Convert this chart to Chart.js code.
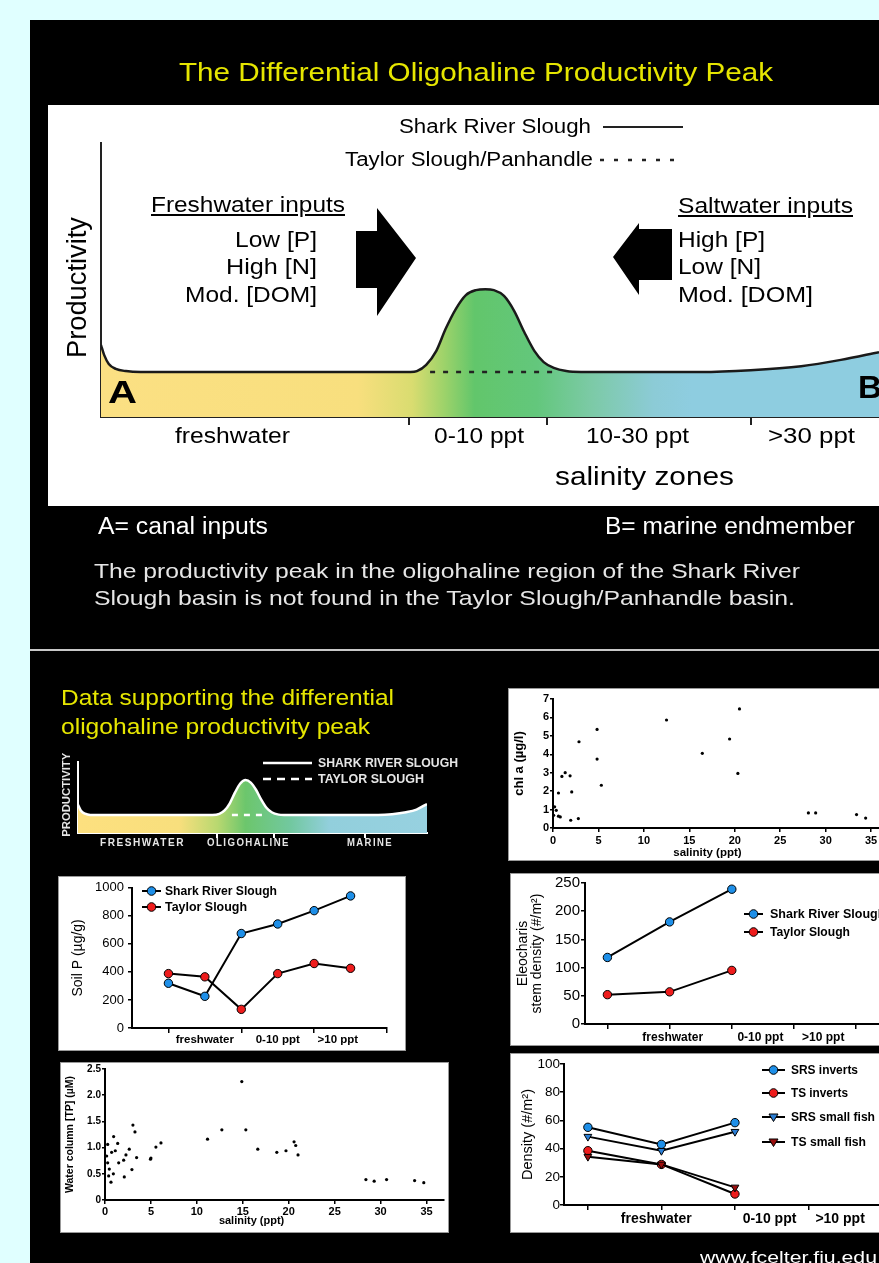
<!DOCTYPE html>
<html>
<head>
<meta charset="utf-8">
<script src="https://cdn.jsdelivr.net/npm/chart.js@4.4.1/dist/chart.umd.min.js"></script>
<style>
html, body { margin: 0; padding: 0; }
body { width: 879px; height: 1263px; overflow: hidden; position: relative; background: #e0ffff;
       font-family: Arial, "Liberation Sans", sans-serif; }
.box { position: absolute; }
.t { position: absolute; white-space: nowrap; line-height: 1; transform-origin: 0 50%; }
canvas { position: absolute; }
</style>
</head>
<body>
<div class="box" style="left:30px;top:20px;width:870px;height:629px;background:#000"></div>
<div class="box" style="left:30px;top:649px;width:870px;height:2px;background:#c8c8c8"></div>
<div class="box" style="left:30px;top:651px;width:870px;height:620px;background:#000"></div>
<div class="box" style="left:48px;top:105px;width:860px;height:401px;background:#fff"></div>
<div class="box" style="left:508px;top:688px;width:400px;height:171px;background:#fff;border:1px solid #999"></div>
<div class="box" style="left:58px;top:876px;width:346px;height:173px;background:#fff;border:1px solid #999"></div>
<div class="box" style="left:510px;top:873px;width:400px;height:171px;background:#fff;border:1px solid #999"></div>
<div class="box" style="left:60px;top:1062px;width:387px;height:169px;background:#fff;border:1px solid #999"></div>
<div class="box" style="left:510px;top:1053px;width:400px;height:178px;background:#fff;border:1px solid #999"></div>

<script>
// ---- conceptual curves (position along transect 0-100 %, productivity relative to baseline) ----
const conceptPos = [0, 0.4, 1.0, 1.9, 3.2, 5.1, 39.8, 40.6, 41.8, 43.1, 44.3, 45.6, 46.9, 48.2, 49.4, 50.5,
                    51.8, 53.1, 54.4, 55.7, 56.9, 58.2, 59.8, 61.7, 77.1, 83.5, 90.0, 95.1, 100];
const conceptSRS = [1.6, 1.38, 1.18, 1.07, 1.02, 1.0, 1.0, 1.02, 1.16, 1.47, 1.96, 2.4, 2.71, 2.82, 2.84, 2.82,
                    2.69, 2.36, 1.89, 1.47, 1.22, 1.09, 1.02, 1.0, 1.0, 1.04, 1.13, 1.27, 1.44];
const conceptTSPos = [42.3, 59.0];
const conceptTS = [1.0, 1.0];
const conceptBreaks = [39.6, 57.3, 83.5];

const miniPos = [0, 0.8, 2, 3.5, 38.5, 40.5, 42, 43.5, 45, 46.5, 48, 49.5, 51, 52.5, 54, 55.5, 57.5, 59,
                 86, 90, 94, 97, 100];
const miniSRS = [1.56, 1.25, 1.07, 1.0, 1.0, 1.06, 1.25, 1.65, 2.25, 2.75, 2.94, 2.8, 2.4, 1.85, 1.4, 1.15, 1.02, 1.0,
                 1.0, 1.04, 1.15, 1.3, 1.61];
const miniTSPos = [44.1, 54.4];
const miniTS = [1.0, 1.0];
const miniBreaks = [39.8, 56.2, 82.2];

// ---- chl a vs salinity ----
const chlSal = [0.18, 0.36, 0.07, 0.6, 0.8, 0.6, 0.98, 1.34, 1.88, 2.06, 1.95, 2.79, 2.86, 4.85, 4.85, 5.32,
                12.49, 16.43, 19.43, 20.52, 20.34, 28.1, 28.9, 33.4, 34.4];
const chlA = [1.15, 0.96, 0.69, 0.64, 0.6, 1.9, 2.8, 3.0, 2.83, 1.96, 0.42, 0.51, 4.68, 5.35, 3.74, 2.32,
              5.86, 4.05, 4.83, 6.46, 2.96, 0.82, 0.82, 0.73, 0.54];
const chlYTicks = [0, 1, 2, 3, 4, 5, 6, 7];
const salTicks = [0, 5, 10, 15, 20, 25, 30, 35];

// ---- water column TP vs salinity ----
const tpSal = [0.29, 0.18, 0.29, 0.47, 0.4, 0.65, 0.72, 0.94, 1.12, 1.38, 1.49, 0.91, 2.1, 2.03, 2.28, 2.64,
               2.93, 3.04, 3.26, 3.44, 5.0, 4.95, 5.54, 6.09, 11.16, 12.72, 14.89, 15.33, 16.63, 18.7,
               19.7, 20.58, 20.76, 21.01, 28.4, 29.3, 30.65, 33.7, 34.7];
const tpConc = [1.06, 0.84, 0.71, 0.59, 0.46, 0.34, 0.91, 1.21, 0.94, 1.08, 0.71, 0.5, 0.44, 0.76, 0.86, 0.97,
                0.58, 1.43, 1.3, 0.81, 0.8, 0.78, 1.01, 1.09, 1.16, 1.34, 2.26, 1.34, 0.97, 0.91,
                0.94, 1.11, 1.04, 0.86, 0.39, 0.36, 0.39, 0.37, 0.33];
const tpYTicks = [0, 0.5, 1, 1.5, 2, 2.5];

// ---- soil P ----
const soilPos = [1, 2, 3, 4, 5, 6];
const soilSRS = [319, 226, 674, 742, 837, 942];
const soilTS = [388, 365, 133, 388, 460, 426];
const soilMarks = [1, 3, 5, 7];
const soilZonePos = [2, 4, 5.65];
const soilYTicks = [0, 200, 400, 600, 800, 1000];

// ---- Eleocharis stem density ----
const eleoPos = [1, 2, 3];
const eleoSRS = [118, 181, 239];
const eleoTS = [52, 57, 95];
const eleoMarks = [1, 2, 3, 4, 5];
const eleoZonePos = [2.05, 3.46, 4.47];
const eleoYTicks = [0, 50, 100, 150, 200, 250];

// ---- invertebrate / small fish density ----
const densPos = [1, 2, 3];
const srsInverts = [55.1, 43, 58.4];
const tsInverts = [38.5, 28.8, 7.8];
const srsFish = [48.5, 38.5, 52];
const tsFish = [34.3, 28.8, 12.5];
const densMarks = [1, 2, 3, 4, 5];
const densZonePos = [1.93, 3.47, 4.43];
const densYTicks = [0, 20, 40, 60, 80, 100];

const zoneLabels = ['freshwater', '0-10 ppt', '>10 ppt'];

const BLUE = '#1e8fe8', RED = '#ee1c1c', DKRED = '#9a0e0e', TRIBLUE = '#2b7ed4';

Chart.defaults.font.family = 'Arial, "Liberation Sans", sans-serif';
Chart.defaults.color = '#000';

function pts(xs, ys) { return xs.map((x, i) => ({x: x, y: ys[i]})); }

function cv(x, y, w, h) {
  const c = document.createElement('canvas');
  c.width = w; c.height = h;
  c.style.left = x + 'px'; c.style.top = y + 'px';
  c.style.width = w + 'px'; c.style.height = h + 'px';
  document.body.appendChild(c);
  return c;
}

function bandFill(stops) {
  return function (ctx) {
    const a = ctx.chart.chartArea;
    if (!a) return null;
    const g = ctx.chart.ctx.createLinearGradient(a.left, 0, a.right, 0);
    stops.forEach(s => g.addColorStop(s[0], s[1]));
    return g;
  };
}

function base(pad, scales) {
  return {
    responsive: false, animation: false, events: [],
    layout: {padding: {left: pad.left || 0, top: pad.top || 0, right: pad.right || 0, bottom: pad.bottom || 0}},
    plugins: {legend: {display: false}, tooltip: {enabled: false}},
    scales: scales
  };
}

function axis(o) {
  return {
    type: 'linear', min: o.min, max: o.max, z: 1,
    afterBuildTicks: s => { s.ticks = o.ticks.slice().sort((a, b) => a - b).map(v => ({value: v})); },
    afterFit: s => { if (o.horiz) s.height = o.size; else s.width = o.size; },
    ticks: {display: o.font !== undefined, autoSkip: false, maxRotation: 0, color: o.color || '#000',
            font: o.font, padding: o.pad || 0, callback: o.label || (v => v)},
    grid: {display: o.tl > 0, drawOnChartArea: false, drawTicks: o.tl > 0, tickLength: o.tl, lineWidth: o.tw || 1.5,
           color: o.marks ? (c => (c.tick && o.marks.includes(c.tick.value)) ? (o.color || '#000') : 'rgba(0,0,0,0)')
                          : (o.color || '#000')},
    border: {color: o.color || '#000', width: 2},
    title: o.title ? {display: true, text: o.title, font: o.tfont, color: '#000', padding: o.tpad}
                   : {display: false}
  };
}

function zoneLabel(pos) {
  return v => { const i = pos.indexOf(v); return i >= 0 ? zoneLabels[i] : ''; };
}

function series(xs, ys, fill, style) {
  return {data: pts(xs, ys), borderColor: '#000', borderWidth: 2, tension: 0, clip: false,
          pointRadius: style === 'triangle' ? 4.5 : 4.2, pointStyle: style || 'circle',
          rotation: style === 'triangle' ? 180 : 0,
          pointBackgroundColor: fill, pointBorderColor: '#000', pointBorderWidth: 1};
}

function dots(xs, ys) {
  return {data: pts(xs, ys), showLine: false, pointRadius: 1.6, pointBackgroundColor: '#000',
          pointBorderWidth: 0, clip: false};
}

// ---- main conceptual diagram ----
new Chart(cv(48, 105, 831, 401), {
  type: 'line',
  data: {datasets: [
    {data: pts(conceptPos, conceptSRS), order: 1, borderColor: '#1a1a1a', borderWidth: 2.5, pointRadius: 0,
     cubicInterpolationMode: 'monotone', fill: 'origin',
     backgroundColor: bandFill([[0, '#fbe083'], [0.33, '#f8df7e'], [0.40, '#d9dc70'], [0.44, '#9fd36a'],
                                [0.48, '#62c66b'], [0.56, '#63c77c'], [0.63, '#7ccaa6'], [0.71, '#8ccbd6'],
                                [0.76, '#8ecde0'], [1, '#8ecde0']])},
    {data: pts(conceptTSPos, conceptTS), order: 0, borderColor: '#222', borderWidth: 2.5, borderDash: [5, 8],
     pointRadius: 0, fill: false}
  ]},
  options: base({left: 53, top: 38, bottom: 81}, {
    x: axis({horiz: true, size: 8, min: 0, max: 100, ticks: conceptBreaks, tl: 8, tw: 2, color: '#222'}),
    y: axis({size: 0, min: 0, max: 6.09, ticks: [], tl: 0, color: '#222'})
  })
});

// ---- small conceptual diagram ----
new Chart(cv(70, 755, 370, 95), {
  type: 'line',
  data: {datasets: [
    {data: pts(miniPos, miniSRS), order: 1, borderColor: '#fff', borderWidth: 2.5, pointRadius: 0,
     cubicInterpolationMode: 'monotone', fill: 'origin',
     backgroundColor: bandFill([[0, '#fde07f'], [0.29, '#f8df7d'], [0.40, '#b8d870'], [0.48, '#6cc66c'],
                                [0.61, '#72c8a0'], [0.72, '#92cfdc'], [1, '#97d1e0']])},
    {data: pts(miniTSPos, miniTS), order: 0, borderColor: '#fff', borderWidth: 2.5, borderDash: [6, 6],
     pointRadius: 0, fill: false}
  ]},
  options: base({left: 8, top: 7, right: 13, bottom: 12}, {
    x: axis({horiz: true, size: 5, min: 0, max: 100, ticks: miniBreaks, tl: 5, tw: 2, color: '#fff'}),
    y: axis({size: 0, min: 0, max: 3.94, ticks: [], tl: 0, color: '#fff'})
  })
});

// ---- chl a ----
new Chart(cv(508, 688, 377, 172), {
  type: 'scatter',
  data: {datasets: [dots(chlSal, chlA)]},
  options: base({top: 11}, {
    x: axis({horiz: true, size: 32, min: 0, max: 36.09, ticks: salTicks, font: {size: 11, weight: 'bold'},
             tl: 4, pad: 2, title: 'salinity (ppt)' + ' '.repeat(6), tfont: {size: 11.5, weight: 'bold'},
             tpad: {top: 0, bottom: 0}}),
    y: axis({size: 45, min: 0, max: 7, ticks: chlYTicks, font: {size: 11, weight: 'bold'}, tl: 3, pad: 1,
             title: 'chl a (µg/l)', tfont: {size: 13, weight: 'bold'}, tpad: {top: 4, bottom: 0}})
  })
});

// ---- soil P ----
new Chart(cv(58, 876, 347, 174), {
  type: 'line',
  data: {datasets: [series(soilPos, soilTS, RED), series(soilPos, soilSRS, BLUE)]},
  options: base({top: 9, right: 18}, {
    x: axis({horiz: true, size: 22, min: 0, max: 7, ticks: soilMarks.concat(soilZonePos), marks: soilMarks,
             label: zoneLabel(soilZonePos), font: {size: 11.5, weight: 'bold'}, tl: 5, pad: 0}),
    y: axis({size: 74, min: 0, max: 1000, ticks: soilYTicks, font: {size: 13}, tl: 4, pad: 4,
             title: 'Soil P (µg/g)', tfont: {size: 14}, tpad: {top: 11.6, bottom: 0}})
  })
});

// ---- Eleocharis ----
new Chart(cv(510, 873, 390, 172), {
  type: 'line',
  data: {datasets: [series(eleoPos, eleoTS, RED), series(eleoPos, eleoSRS, BLUE)]},
  options: base({top: 9}, {
    x: axis({horiz: true, size: 21, min: 0.64, max: 5.62, ticks: eleoMarks.concat(eleoZonePos), marks: eleoMarks,
             label: zoneLabel(eleoZonePos), font: {size: 12, weight: 'bold'}, tl: 5, pad: 1}),
    y: axis({size: 75, min: 0, max: 250, ticks: eleoYTicks, font: {size: 15}, tl: 4, pad: 1,
             title: ['Eleocharis', 'stem density (#/m²)'], tfont: {size: 14, lineHeight: 1},
             tpad: {top: 6, bottom: 0}})
  })
});

// ---- water column TP ----
new Chart(cv(60, 1062, 388, 170), {
  type: 'scatter',
  data: {datasets: [dots(tpSal, tpConc)]},
  options: base({top: 5, right: 3}, {
    x: axis({horiz: true, size: 32, min: 0, max: 36.9, ticks: salTicks, font: {size: 11, weight: 'bold'},
             tl: 4, pad: 1, title: 'salinity (ppt)' + ' '.repeat(15), tfont: {size: 11, weight: 'bold'},
             tpad: {top: 0, bottom: 4}}),
    y: axis({size: 45, min: 0, max: 2.5, ticks: tpYTicks, font: {size: 10, weight: 'bold'}, tl: 3, pad: 1,
             label: v => v === 0 ? '0' : v.toFixed(1),
             title: 'Water column [TP] (µM)', tfont: {size: 10.5, weight: 'bold'}, tpad: {top: 3.7, bottom: 0}})
  })
});

// ---- density ----
new Chart(cv(510, 1053, 390, 179), {
  type: 'line',
  data: {datasets: [
    series(densPos, tsFish, DKRED, 'triangle'), series(densPos, srsFish, TRIBLUE, 'triangle'),
    series(densPos, tsInverts, RED), series(densPos, srsInverts, BLUE)
  ]},
  options: base({top: 11}, {
    x: axis({horiz: true, size: 27, min: 0.675, max: 5.17, ticks: densMarks.concat(densZonePos), marks: densMarks,
             label: zoneLabel(densZonePos), font: {size: 14, weight: 'bold'}, tl: 5, pad: 1}),
    y: axis({size: 54, min: 0, max: 100, ticks: densYTicks, font: {size: 13.5}, tl: 4, pad: 0,
             title: 'Density (#/m²)', tfont: {size: 14.5}, tpad: {top: 9.3, bottom: 0}})
  })
});

// ---- overlay shapes: arrows and legend keys ----
function keyRow(x1, x2, cy, fill, style) {
  const mx = (x1 + x2) / 2;
  let m;
  if (style === 'triangle') {
    m = `<polygon points="${mx - 4.5},${cy - 3} ${mx + 4.5},${cy - 3} ${mx},${cy + 4.5}" fill="${fill}" stroke="#000" stroke-width="1"/>`;
  } else {
    m = `<circle cx="${mx}" cy="${cy}" r="4.3" fill="${fill}" stroke="#000" stroke-width="1"/>`;
  }
  return `<line x1="${x1}" y1="${cy}" x2="${x2}" y2="${cy}" stroke="#000" stroke-width="2"/>` + m;
}

const svg = document.createElementNS('http://www.w3.org/2000/svg', 'svg');
svg.setAttribute('width', 879); svg.setAttribute('height', 1263);
svg.style.position = 'absolute'; svg.style.left = '0'; svg.style.top = '0';
svg.innerHTML =
  '<polygon points="356,231 377,231 377,208 416,258 377,316 377,288 356,288" fill="#000"/>' +
  '<polygon points="613,257 639,223 639,229 672,229 672,280 639,280 639,295" fill="#000"/>' +
  '<line x1="603" y1="127" x2="683" y2="127" stroke="#222" stroke-width="2"/>' +
  '<line x1="600" y1="160" x2="683" y2="160" stroke="#222" stroke-width="2.5" stroke-dasharray="4 10"/>' +
  '<line x1="263" y1="763" x2="312" y2="763" stroke="#fff" stroke-width="2.5"/>' +
  '<line x1="263" y1="779" x2="312" y2="779" stroke="#fff" stroke-width="2.5" stroke-dasharray="8 6"/>' +
  keyRow(142, 161, 891, BLUE) + keyRow(142, 161, 907, RED) +
  keyRow(744, 763, 914, BLUE) + keyRow(744, 763, 932, RED) +
  keyRow(762, 785, 1070, BLUE) + keyRow(762, 785, 1093, RED) +
  keyRow(762, 785, 1117, TRIBLUE, 'triangle') + keyRow(762, 785, 1142, DKRED, 'triangle');
document.body.appendChild(svg);

// ---- text, each stretched to the width it has in the picture ----
function txt(s, x, cy, fs, w, o) {
  o = o || {};
  const d = document.createElement('div');
  d.className = 't';
  d.textContent = s;
  d.style.fontSize = fs + 'px';
  d.style.color = o.color || '#000';
  if (o.bold) d.style.fontWeight = 'bold';
  if (o.u) d.style.textDecoration = 'underline';
  if (o.ls) d.style.letterSpacing = o.ls + 'px';
  document.body.appendChild(d);
  const w0 = d.getBoundingClientRect().width;
  const k = w ? w / w0 : 1;
  if (o.rot) {
    d.style.left = (x - w0 / 2) + 'px';
    d.style.top = (cy - fs / 2) + 'px';
    d.style.transformOrigin = '50% 50%';
    d.style.transform = `rotate(-90deg) scaleX(${k})`;
  } else {
    d.style.left = x + 'px';
    d.style.top = (cy - fs / 2) + 'px';
    d.style.transform = `scaleX(${k})`;
  }
}

const YEL = '#e6e600', WH = '#ffffff', LG = '#e6e6e6';
txt('The Differential Oligohaline Productivity Peak', 179, 72, 26, 594, {color: YEL});
txt('Shark River Slough', 399, 126, 20, 192);
txt('Taylor Slough/Panhandle', 345, 159, 20, 248);
txt('Freshwater inputs', 151, 205, 22, 194, {u: true});
txt('Low [P]', 235, 240, 22, 82);
txt('High [N]', 226, 267, 22, 91);
txt('Mod. [DOM]', 185, 295, 22, 132);
txt('Saltwater inputs', 678, 206, 22, 175, {u: true});
txt('High [P]', 678, 240, 22, 87);
txt('Low [N]', 678, 267, 22, 83);
txt('Mod. [DOM]', 678, 295, 22, 135);
txt('Productivity', 78, 287, 27, 141, {rot: true});
txt('A', 108, 392, 32, 29, {bold: true});
txt('B', 858, 387, 32, 24, {bold: true});
txt('freshwater', 175, 436, 22, 115);
txt('0-10 ppt', 434, 436, 22, 90);
txt('10-30 ppt', 586, 436, 22, 103);
txt('>30 ppt', 768, 436, 22, 87);
txt('salinity zones', 555, 476, 26, 179);
txt('A= canal inputs', 98, 526, 23, 170, {color: WH});
txt('B= marine endmember', 605, 526, 23, 250, {color: WH});
txt('The productivity peak in the oligohaline region of the Shark River', 94, 570, 21, 706, {color: LG});
txt('Slough basin is not found in the Taylor Slough/Panhandle basin.', 94, 597, 21, 701, {color: LG});

txt('Data supporting the differential', 61, 698, 22, 333, {color: YEL});
txt('oligohaline productivity peak', 61, 727, 22, 309, {color: YEL});
txt('PRODUCTIVITY', 67, 795, 11.5, 84, {rot: true, bold: true, color: LG});
txt('SHARK RIVER SLOUGH', 318, 763, 12.5, 140, {bold: true, color: LG});
txt('TAYLOR SLOUGH', 318, 779, 12.5, 106, {bold: true, color: LG});
txt('FRESHWATER', 100, 843, 10, 85, {bold: true, color: LG, ls: 1.5});
txt('OLIGOHALINE', 207, 843, 10, 83, {bold: true, color: LG, ls: 1.5});
txt('MARINE', 347, 843, 10, 46, {bold: true, color: LG, ls: 1.5});

txt('Shark River Slough', 165, 891, 12, 112, {bold: true});
txt('Taylor Slough', 165, 907, 12, 82, {bold: true});
txt('Shark River Slough', 770, 914, 12.5, 0, {bold: true});
txt('Taylor Slough', 770, 932, 12.5, 80, {bold: true});
txt('SRS inverts', 791, 1070, 12, 67, {bold: true});
txt('TS inverts', 791, 1093, 12, 57, {bold: true});
txt('SRS small fish', 791, 1117, 12, 84, {bold: true});
txt('TS small fish', 791, 1142, 12, 75, {bold: true});

txt('www.fcelter.fiu.edu', 700, 1257, 17, 177, {color: WH});
</script>
</body>
</html>
